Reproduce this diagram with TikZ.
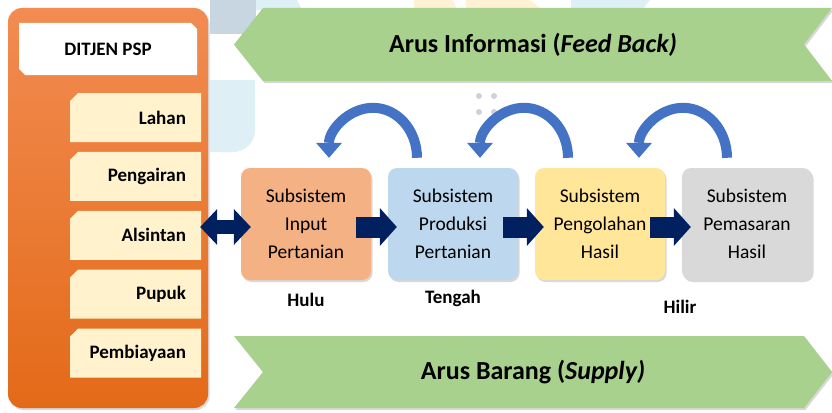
\documentclass[tikz,border=0pt]{standalone}
\usepackage{fontspec}
\setmainfont{Carlito}
\usetikzlibrary{positioning,calc,arrows.meta,shapes.misc,shadows}

\definecolor{pspTop}{RGB}{242,140,82}
\definecolor{pspBot}{RGB}{227,106,24}
\definecolor{cream}{RGB}{255,242,204}
\definecolor{arusGreen}{RGB}{169,209,142}
\definecolor{navy}{RGB}{0,32,96}
\definecolor{fbBlue}{RGB}{68,114,196}
\definecolor{inOrange}{RGB}{244,177,131}
\definecolor{proBlue}{RGB}{189,215,238}
\definecolor{olhYellow}{RGB}{255,230,153}
\definecolor{psrGray}{RGB}{217,217,217}
\definecolor{bgBlue}{RGB}{222,239,245}
\definecolor{bgSlate}{RGB}{200,214,226}
\definecolor{bgSand}{RGB}{255,241,212}
\definecolor{bgDot}{RGB}{205,210,218}

\tikzset{
  lift/.style={drop shadow={opacity=.3,shadow xshift=1.5pt,shadow yshift=-2pt}},
  panel/.style={lift,rounded corners=14pt,minimum width=200pt,minimum height=400pt,
    top color=pspTop,bottom color=pspBot},
  headbox/.style={chamfered rectangle,chamfered rectangle corners={north east,south west},
    chamfered rectangle xsep=3pt,chamfered rectangle ysep=3pt,fill=white,
    minimum width=178pt,minimum height=52pt,font=\fontsize{19}{22}\selectfont\bfseries},
  item/.style={chamfered rectangle,chamfered rectangle corners=north west,
    chamfered rectangle xsep=4pt,chamfered rectangle ysep=4pt,fill=cream,
    minimum width=123pt,minimum height=49pt,inner xsep=11pt,text width=101pt,
    align=right,font=\fontsize{19}{22}\selectfont\bfseries},
  sub/.style={lift,rounded corners=9pt,minimum width=130pt,minimum height=112pt,
    align=center,font=\fontsize{19.5}{28}\selectfont},
  lbl/.style={font=\fontsize{19}{22}\selectfont\bfseries},
  arus/.style={lift,fill=arusGreen},
  arustext/.style={font=\fontsize{26}{30}\selectfont\bfseries},
  flow/.style={draw=navy,line width=21pt,-{Triangle[width=38pt,length=17pt,line width=0pt]}},
  link/.style={draw=navy,line width=14pt,
    {Triangle[width=36pt,length=17pt,line width=0pt]}-{Triangle[width=36pt,length=17pt,line width=0pt]}},
  fb/.style={draw=fbBlue,line width=10pt,-{Triangle[width=26pt,length=15pt,line width=0pt]}}
}

\begin{document}
\begin{tikzpicture}[x=1pt,y=-1pt,node distance=58.9pt,on grid]
  \fill[white] (0,0) rectangle (832,412);
  \useasboundingbox (0,0) rectangle (832,412);
  % pale background
  \fill[bgSlate] (210,0) rectangle (256,34);
  \fill[bgBlue] (256,0) -- (297,0) -- (302,10) -- (256,10) -- cycle;
  \fill[bgSand] (414,0) -- (452,0) -- (458,10) -- (414,10) -- cycle;
  \fill[bgSand] (466,0) -- (530,0) -- (542,10) -- (466,10) -- cycle;
  \fill[bgBlue] (571,0) -- (650,0) -- (642,10) -- (571,10) -- cycle;
  \fill[bgBlue] (210,80) -- (255,80) -- (255,130) arc[start angle=0,end angle=90,radius=22] -- (210,152) -- cycle;
  \foreach \px in {479,494}
    \foreach \py in {96,112}
      \fill[bgDot] (\px,\py) circle[radius=3];

  % DITJEN PSP
  \node[panel](psp) at (108,208) {};
  \node[headbox](ditjen) at (108,49) {DITJEN PSP};
  \node[item](lahan) at (135.5,117.5) {Lahan};
  \node[item](pengairan)[below=of lahan] {Pengairan};
  \node[item](alsintan)[below=of pengairan] {Alsintan};
  \node[item](pupuk)[below=of alsintan] {Pupuk};
  \node[item](pembiayaan)[below=of pupuk] {Pembiayaan};

  % arus
  \path[arus] (234,44.5) -- (263,8) -- (832,8) -- (804,44.5) -- (832,81) -- (263,81) -- cycle;
  \node[arustext](info) at (533,44.5) {Arus Informasi (\textit{Feed Back)}};
  \path[arus] (234,336) -- (804,336) -- (832,372) -- (804,408) -- (234,408) -- (263,372) -- cycle;
  \node[arustext](barang) at (533,372) {Arus Barang (\textit{Supply)}};

  % subsistem
  \node[sub,fill=inOrange](input) at (306,224) {Subsistem\\Input\\Pertanian};
  \node[sub,fill=proBlue](produksi)[right=147pt of input] {Subsistem\\Produksi\\Pertanian};
  \node[sub,fill=olhYellow](olahan)[right=147pt of produksi] {Subsistem\\Pengolahan\\Hasil};
  \node[sub,fill=psrGray](pasar)[right=147pt of olahan] {Subsistem\\Pemasaran\\Hasil};

  \node[lbl](hulu)[below=76pt of input] {Hulu};
  \node[lbl](tengah)[below=74pt of produksi] {Tengah};
  \node[lbl](hilir) at (680,307) {Hilir};

  \draw[link] ($(input.west -| psp.east)+(-8,3)$) -- ($(input.west)+(10,3)$);
  \draw[flow] ($(input.east)+(-15,3)$) -- ($(produksi.west)+(9,3)$);
  \draw[flow] ($(produksi.east)+(-15,3)$) -- ($(olahan.west)+(9,3)$);
  \draw[flow] ($(olahan.east)+(-15,3)$) -- ($(pasar.west)+(9,3)$);

  \draw[fb] ($(produksi.north)+(-36,-10)$) arc[start angle=0,end angle=-180,x radius=44,y radius=50];
  \draw[fb] ($(olahan.north)+(-32,-10)$) arc[start angle=0,end angle=-180,x radius=44,y radius=50];
  \draw[fb] ($(pasar.north)+(-20,-10)$) arc[start angle=0,end angle=-180,x radius=44,y radius=50];
\end{tikzpicture}
\end{document}
